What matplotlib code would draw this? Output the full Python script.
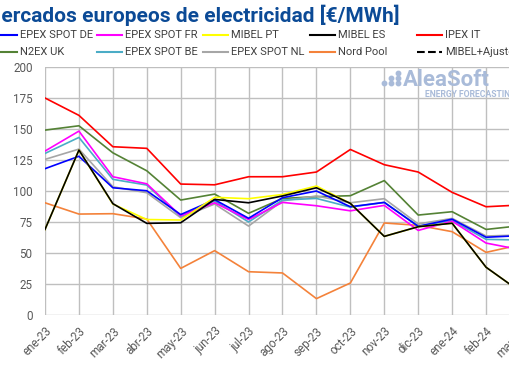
import matplotlib
matplotlib.use('Agg')
import matplotlib.pyplot as plt
from matplotlib.lines import Line2D

plt.rcParams['font.family'] = ['Roboto', 'DejaVu Sans']

# Monthly average prices [EUR/MWh]
months = ['ene-23', 'feb-23', 'mar-23', 'abr-23', 'may-23', 'jun-23', 'jul-23', 'ago-23',
          'sep-23', 'oct-23', 'nov-23', 'dic-23', 'ene-24', 'feb-24', 'mar-24']
epex_de = [118, 128, 102.6, 100.2, 81, 93, 78, 94.6, 100, 87.3, 90.8, 71.5, 77.3, 62.7, 64]
epex_fr = [132.2, 148.3, 111.5, 105.8, 80, 90.5, 77, 90.8, 88.1, 84, 88.4, 68.2, 75.7, 58, 52.7]
mibel_pt = [69, 133, 89.5, 77, 76.6, 94.9, 93.8, 97.2, 104, 90, 63.4, 71.2, 74, 38.5, 19]
mibel_es = [69, 133, 89.8, 73.9, 74.4, 93.2, 90.5, 96, 102.6, 90, 63.4, 71.2, 74, 38.5, 19]
ipex_it = [175, 161, 135.7, 134.4, 105.6, 105, 111.5, 111.5, 115.3, 133.5, 121.2, 115.3, 98.9, 87.3, 88.7]
n2ex_uk = [149.1, 152.6, 130.8, 116.3, 92.7, 97.5, 82, 94, 95.4, 96.2, 108.4, 80.6, 83.3, 69, 72]
epex_be = [130.3, 143.2, 109.4, 104.8, 79.5, 92, 75, 92.7, 94, 87, 90.8, 71.7, 76.2, 61, 60.5]
epex_nl = [125.5, 133.8, 103.4, 98.6, 78.5, 89.5, 71.7, 92, 96, 90.5, 93.8, 73.4, 77.9, 63.7, 64.5]
nord_pool = [90.5, 81.4, 81.7, 77.4, 37.6, 51.9, 34.9, 33.9, 13.2, 25.8, 74.2, 72.3, 67.2, 50.5, 56.6]
mibel_ajuste = []

series = [
    ('EPEX SPOT DE', epex_de, '#0000ff', '-'),
    ('EPEX SPOT FR', epex_fr, '#ff00ff', '-'),
    ('MIBEL PT', mibel_pt, '#ffff00', '-'),
    ('MIBEL ES', mibel_es, '#000000', '-'),
    ('IPEX IT', ipex_it, '#ff0000', '-'),
    ('N2EX UK', n2ex_uk, '#548235', '-'),
    ('EPEX SPOT BE', epex_be, '#4bacc6', '-'),
    ('EPEX SPOT NL', epex_nl, '#a6a6a6', '-'),
    ('Nord Pool', nord_pool, '#f4823a', '-'),
    ('MIBEL+Ajuste', mibel_ajuste, '#000000', '--'),
]
draw_order = ['Nord Pool', 'IPEX IT', 'N2EX UK', 'EPEX SPOT NL', 'EPEX SPOT BE',
              'EPEX SPOT FR', 'EPEX SPOT DE', 'MIBEL PT', 'MIBEL ES']

fig = plt.figure(figsize=(5.1, 3.82), dpi=100)
ax = fig.add_axes([45 / 510, 67 / 382, 475 / 510, 248 / 382])

x = list(range(len(months)))
lookup = {s[0]: s for s in series}
for name in draw_order:
    _, vals, color, ls = lookup[name]
    ax.plot(x[:len(vals)], vals, color=color, linestyle=ls, linewidth=1.2)

ax.set_xlim(0, len(months) - 1)
ax.set_ylim(0, 200)
ax.set_yticks(range(0, 201, 25))
ax.set_xticks(x)
ax.set_xticklabels(months, rotation=45, ha='right', rotation_mode='anchor')
ax.tick_params(axis='both', length=0, labelsize=8.4, colors='#595959')
ax.tick_params(axis='x', pad=7)
ax.tick_params(axis='y', pad=9)
ax.grid(True, color='#bfbfbf', linewidth=1.0)
ax.set_axisbelow(True)
for sp in ax.spines.values():
    sp.set_visible(False)

# watermark logo
logo = '#a9bbd9'
fig.text(403 / 510, 1 - 86 / 382, 'AleaSoft', ha='left', va='baseline',
         fontsize=16, fontweight='bold', color=logo)
fig.text(425 / 510, 1 - 97 / 382, 'ENERGY FORECASTING', ha='left', va='baseline',
         fontsize=6.2, fontweight='bold', color=logo)
for cx, n in [(384, 1), (391, 2), (398, 3)]:
    for k in range(n):
        fig.add_artist(Line2D([cx / 510], [1 - (83 - 5 * k) / 382], marker='o',
                              markersize=3.2, color=logo, linestyle='none',
                              transform=fig.transFigure))

# title, cut off on the left as in the source image
fig.text(400 / 510, 1 - 15 / 382, 'Mercados europeos de electricidad [\u20ac/MWh]',
         ha='right', va='center', fontsize=15, fontweight='bold', color='#0b4a96')

# legend laid out in two rows of five
col_x = [-8, 97, 203, 310, 417]
row_y = [35, 52]
for i, (name, vals, color, ls) in enumerate(series):
    r, c = divmod(i, 5)
    x0 = col_x[c] / 510
    y0 = 1 - row_y[r] / 382
    fig.add_artist(Line2D([x0, x0 + 25 / 510], [y0, y0], color=color, linestyle=ls,
                          linewidth=1.5, transform=fig.transFigure))
    fig.text(x0 + 28 / 510, y0, name, ha='left', va='center', fontsize=8, color='#404040')

fig.savefig('out.png', dpi=100)
